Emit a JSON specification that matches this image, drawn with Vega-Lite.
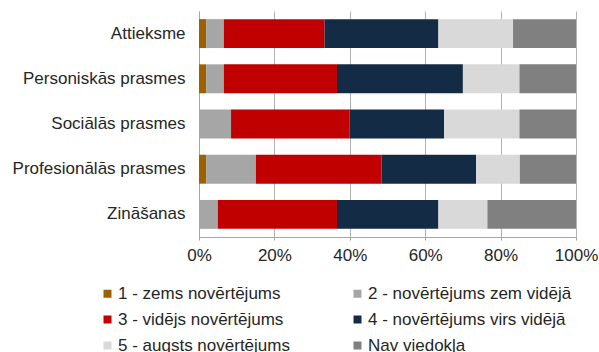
{
  "$schema": "https://vega.github.io/schema/vega-lite/v6.json",
  "width": 377,
  "height": 226,
  "autosize": {"type": "none"},
  "padding": {"left": 199, "top": 11, "right": 23, "bottom": 115},
  "background": "white",
  "config": {
    "view": {"stroke": null},
    "font": "Liberation Sans",
    "axis": {"labelFont": "Liberation Sans", "labelFontSize": 17, "labelColor": "#262626"},
    "legend": {"labelFont": "Liberation Sans", "labelFontSize": 17, "labelColor": "#262626"}
  },
  "data": {
    "values": [
      {"cat": "Attieksme", "r": "1 - zems novērtējums", "o": 1, "v": 1.9},
      {"cat": "Attieksme", "r": "2 - novērtējums zem vidējā", "o": 2, "v": 4.7},
      {"cat": "Attieksme", "r": "3 - vidējs novērtējums", "o": 3, "v": 26.7},
      {"cat": "Attieksme", "r": "4 - novērtējums virs vidējā", "o": 4, "v": 30.2},
      {"cat": "Attieksme", "r": "5 - augsts novērtējums", "o": 5, "v": 19.8},
      {"cat": "Attieksme", "r": "Nav viedokļa", "o": 6, "v": 16.7},
      {"cat": "Personiskās prasmes", "r": "1 - zems novērtējums", "o": 1, "v": 1.9},
      {"cat": "Personiskās prasmes", "r": "2 - novērtējums zem vidējā", "o": 2, "v": 4.7},
      {"cat": "Personiskās prasmes", "r": "3 - vidējs novērtējums", "o": 3, "v": 30.0},
      {"cat": "Personiskās prasmes", "r": "4 - novērtējums virs vidējā", "o": 4, "v": 33.4},
      {"cat": "Personiskās prasmes", "r": "5 - augsts novērtējums", "o": 5, "v": 15.0},
      {"cat": "Personiskās prasmes", "r": "Nav viedokļa", "o": 6, "v": 15.0},
      {"cat": "Sociālās prasmes", "r": "1 - zems novērtējums", "o": 1, "v": 0},
      {"cat": "Sociālās prasmes", "r": "2 - novērtējums zem vidējā", "o": 2, "v": 8.5},
      {"cat": "Sociālās prasmes", "r": "3 - vidējs novērtējums", "o": 3, "v": 31.4},
      {"cat": "Sociālās prasmes", "r": "4 - novērtējums virs vidējā", "o": 4, "v": 25.1},
      {"cat": "Sociālās prasmes", "r": "5 - augsts novērtējums", "o": 5, "v": 20.0},
      {"cat": "Sociālās prasmes", "r": "Nav viedokļa", "o": 6, "v": 15.0},
      {"cat": "Profesionālās prasmes", "r": "1 - zems novērtējums", "o": 1, "v": 1.9},
      {"cat": "Profesionālās prasmes", "r": "2 - novērtējums zem vidējā", "o": 2, "v": 13.2},
      {"cat": "Profesionālās prasmes", "r": "3 - vidējs novērtējums", "o": 3, "v": 33.3},
      {"cat": "Profesionālās prasmes", "r": "4 - novērtējums virs vidējā", "o": 4, "v": 25.1},
      {"cat": "Profesionālās prasmes", "r": "5 - augsts novērtējums", "o": 5, "v": 11.6},
      {"cat": "Profesionālās prasmes", "r": "Nav viedokļa", "o": 6, "v": 14.9},
      {"cat": "Zināšanas", "r": "1 - zems novērtējums", "o": 1, "v": 0},
      {"cat": "Zināšanas", "r": "2 - novērtējums zem vidējā", "o": 2, "v": 5.0},
      {"cat": "Zināšanas", "r": "3 - vidējs novērtējums", "o": 3, "v": 31.6},
      {"cat": "Zināšanas", "r": "4 - novērtējums virs vidējā", "o": 4, "v": 26.9},
      {"cat": "Zināšanas", "r": "5 - augsts novērtējums", "o": 5, "v": 13.0},
      {"cat": "Zināšanas", "r": "Nav viedokļa", "o": 6, "v": 23.5}
    ]
  },
  "mark": {"type": "bar"},
  "encoding": {
    "y": {
      "field": "cat",
      "type": "nominal",
      "sort": ["Attieksme", "Personiskās prasmes", "Sociālās prasmes", "Profesionālās prasmes", "Zināšanas"],
      "scale": {"paddingInner": 0.36, "paddingOuter": 0.18},
      "axis": {"title": null, "ticks": false, "domain": true, "domainColor": "#a6a6a6", "labelPadding": 14, "grid": false, "labelLimit": 0}
    },
    "x": {
      "field": "v",
      "type": "quantitative",
      "stack": "normalize",
      "scale": {"domain": [0, 1], "nice": false},
      "axis": {
        "title": null,
        "format": ".0%",
        "values": [0, 0.2, 0.4, 0.6, 0.8, 1],
        "grid": true,
        "gridColor": "#b3b3b3",
        "domainColor": "#a6a6a6",
        "tickColor": "#a6a6a6",
        "tickSize": 3,
        "labelPadding": 7,
        "labelFlush": false
      }
    },
    "order": {"field": "o", "type": "quantitative"},
    "color": {
      "field": "r",
      "type": "nominal",
      "scale": {
        "domain": ["1 - zems novērtējums", "3 - vidējs novērtējums", "5 - augsts novērtējums", "2 - novērtējums zem vidējā", "4 - novērtējums virs vidējā", "Nav viedokļa"],
        "range": ["#9c6100", "#c00000", "#d9d9d9", "#a6a6a6", "#142b45", "#808080"]
      },
      "legend": {
        "title": null,
        "orient": "none",
        "legendX": -100,
        "legendY": 274,
        "columns": 2,
        "symbolType": "square",
        "symbolSize": 64,
        "symbolStrokeWidth": 0,
        "labelOffset": 2,
        "rowPadding": 8,
        "columnPadding": 59,
        "labelLimit": 0
      }
    }
  }
}
